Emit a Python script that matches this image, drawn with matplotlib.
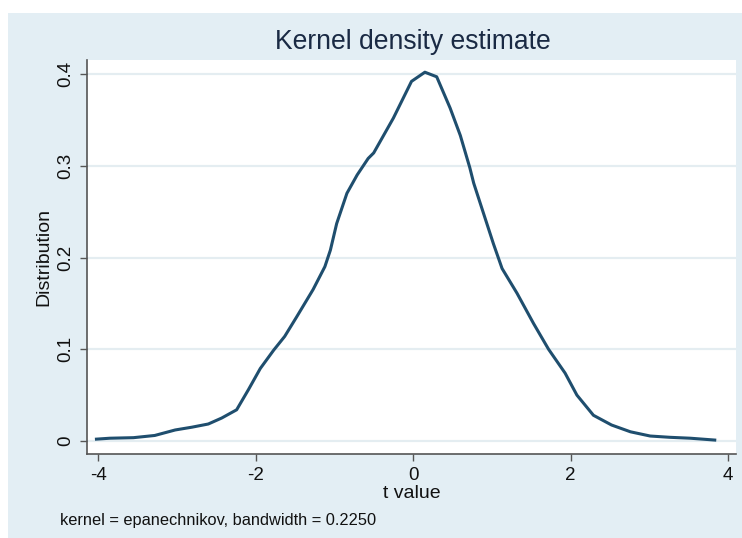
import matplotlib.pyplot as plt
from matplotlib.patches import Rectangle

# density curve
t_value = [-4.02, -3.85, -3.55, -3.28, -3.02, -2.81, -2.60, -2.43, -2.24, -2.09,
           -1.94, -1.77, -1.63, -1.48, -1.27, -1.12, -1.05, -0.97, -0.84, -0.71,
           -0.57, -0.50, -0.25, -0.02, 0.15, 0.30, 0.47, 0.60, 0.72, 0.77,
           0.91, 1.02, 1.13, 1.32, 1.53, 1.72, 1.93, 2.08, 2.29, 2.52,
           2.76, 3.01, 3.26, 3.52, 3.83]
density = [0.002, 0.003, 0.0036, 0.006, 0.012, 0.015, 0.0185, 0.025, 0.034, 0.056,
           0.079, 0.099, 0.114, 0.135, 0.165, 0.190, 0.208, 0.237, 0.270, 0.290,
           0.308, 0.314, 0.352, 0.392, 0.402, 0.397, 0.363, 0.333, 0.298, 0.281,
           0.244, 0.215, 0.188, 0.161, 0.128, 0.100, 0.074, 0.050, 0.028, 0.0174,
           0.010, 0.0054, 0.004, 0.003, 0.001]

x_ticks = [-4, -2, 0, 2, 4]
x_tick_labels = ['-4', '-2', '0', '2', '4']
y_ticks = [0, 0.1, 0.2, 0.3, 0.4]
y_tick_labels = ['0', '0.1', '0.2', '0.3', '0.4']

plt.rcParams['font.family'] = ['Liberation Sans', 'DejaVu Sans']
plt.rcParams['axes.unicode_minus'] = False

fig = plt.figure(figsize=(7.42, 5.38), dpi=100)
fig.patch.set_facecolor('white')
# light bluish graph region, leaving thin white strip top/left
fig.patches.append(Rectangle((8 / 742, 0), 1 - 8 / 742, 1 - 13 / 538,
                             transform=fig.transFigure, facecolor='#E3EEF4',
                             edgecolor='none', zorder=-5))

ax = fig.add_axes([87 / 742, 1 - 454 / 538, 649 / 742, 394 / 538])
ax.set_zorder(1)
ax.set_facecolor('white')

for y in y_ticks:
    ax.axhline(y, color='#E4EDF1', linewidth=1.6, zorder=1)

ax.plot(t_value, density, color='#1F4E6E', linewidth=2.2, zorder=3)

ax.set_xlim(-4.14, 4.10)
ax.set_ylim(-0.0142, 0.4153)
ax.set_xticks(x_ticks)
ax.set_xticklabels(x_tick_labels)
ax.set_yticks(y_ticks)
ax.set_yticklabels(y_tick_labels, rotation=90, va='center')
ax.tick_params(axis='both', direction='out', length=5, width=1, color='#555555',
               labelsize=13.5, labelcolor='#111111', pad=4)

for side in ['top', 'right']:
    ax.spines[side].set_visible(False)
for side in ['left', 'bottom']:
    ax.spines[side].set_color('#555555')
    ax.spines[side].set_linewidth(1.2)

ax.set_xlabel('t value', fontsize=14, color='#111111', labelpad=1)
ax.set_ylabel('Distribution', fontsize=14, color='#111111', labelpad=4)

fig.text(413 / 742, 1 - 42 / 538, 'Kernel density estimate', fontsize=19.1,
         color='#1A2A44', ha='center', va='center')
fig.text(60 / 742, 1 - 520 / 538, 'kernel = epanechnikov, bandwidth = 0.2250',
         fontsize=11.8, color='#111111', ha='left', va='center')

fig.savefig('out.png', dpi=100, facecolor=fig.get_facecolor())
